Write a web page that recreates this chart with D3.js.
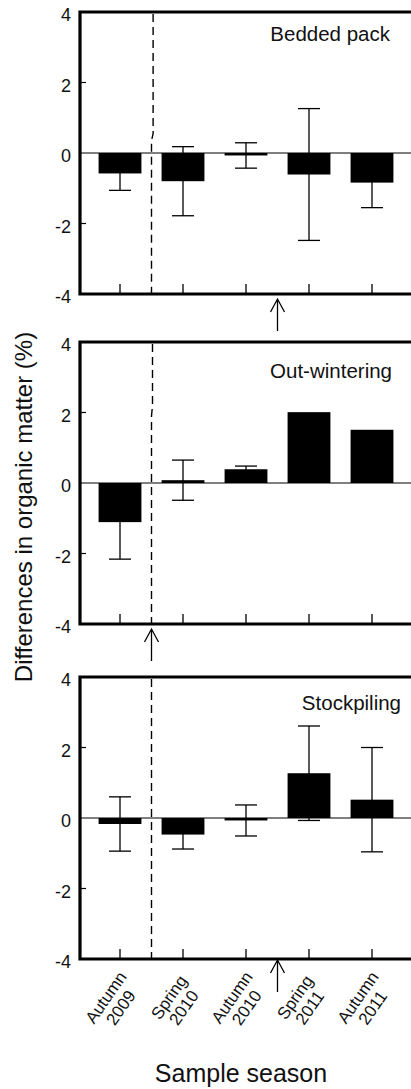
<!DOCTYPE html>
<html>
<head>
<meta charset="utf-8">
<script src="https://cdn.jsdelivr.net/npm/d3@7.9.0/dist/d3.min.js"></script>
<style>
  body { margin: 0; background: #fff; }
  svg { display: block; font-family: "Liberation Sans", Arial, sans-serif; }
</style>
</head>
<body>
<svg id="chart" width="411" height="1089"></svg>
<script>
// Data
const seasons = ['Autumn 2009', 'Spring 2010', 'Autumn 2010', 'Spring 2011', 'Autumn 2011'];
const seasonLines = [['Autumn', '2009'], ['Spring', '2010'], ['Autumn', '2010'], ['Spring', '2011'], ['Autumn', '2011']];
const panelNames = ['Bedded pack', 'Out-wintering', 'Stockpiling'];

const beddedMean = [-0.58, -0.80, -0.07, -0.61, -0.84];
const beddedErr  = [0.48, 0.98, 0.36, 1.87, 0.71];
const outMean    = [-1.11, 0.08, 0.39, 2.01, 1.51];
const outErr     = [1.05, 0.57, 0.09, 0, 0];
const stockMean  = [-0.17, -0.47, -0.07, 1.27, 0.52];
const stockErr   = [0.77, 0.41, 0.44, 1.34, 1.48];

const yTicks = [4, 2, 0, -2, -4];
const dashedAfter = 0;          // dashed separator after this season index
const arrowAfter = [2, 0, 2];   // arrow under the gap after this season index

const means = [beddedMean, outMean, stockMean];
const errs = [beddedErr, outErr, stockErr];

const svg = d3.select('#chart');

// layout
const left = 80, right = 412;
const panelTop = [12, 342, 677];
const panelH = 282;
const labelBase = [41, 378, 710];
const labelRight = [390, 392, 401];
const kink = [[1.6, 0.55, 0.35], [1.0, 2.2, 1.9], [0, 0, 0]];

const x = d3.scalePoint().domain(seasons).range([left, right]).padding(0.635);
const step = x.step();
const barW = step * 0.68;
const capW = step * 0.35;

panelNames.forEach((name, p) => {
  const y = d3.scaleLinear().domain([-4, 4]).range([panelTop[p] + panelH, panelTop[p]]);
  const g = svg.append('g');
  const data = seasons.map((s, i) => ({ s, m: means[p][i], e: errs[p][i] }));

  // zero line
  g.append('line')
    .attr('x1', left).attr('x2', 411)
    .attr('y1', y(0)).attr('y2', y(0))
    .attr('stroke', '#000').attr('stroke-width', 1.2);

  // bars
  g.selectAll('rect.bar').data(data).join('rect')
    .attr('class', 'bar')
    .attr('x', d => x(d.s) - barW / 2)
    .attr('width', barW)
    .attr('y', d => y(Math.max(0, d.m)))
    .attr('height', d => Math.abs(y(d.m) - y(0)))
    .attr('fill', '#000');

  // error bars
  const eb = g.selectAll('g.err').data(data.filter(d => d.e > 0)).join('g')
    .attr('class', 'err')
    .attr('stroke', '#000').attr('stroke-width', 1.3);
  eb.append('line')
    .attr('x1', d => x(d.s)).attr('x2', d => x(d.s))
    .attr('y1', d => y(d.m + d.e)).attr('y2', d => y(d.m - d.e));
  eb.append('line')
    .attr('x1', d => x(d.s) - capW / 2).attr('x2', d => x(d.s) + capW / 2)
    .attr('y1', d => y(d.m + d.e)).attr('y2', d => y(d.m + d.e));
  eb.append('line')
    .attr('x1', d => x(d.s) - capW / 2).attr('x2', d => x(d.s) + capW / 2)
    .attr('y1', d => y(d.m - d.e)).attr('y2', d => y(d.m - d.e));

  // dashed separator
  const dx = x(seasons[dashedAfter]) + step / 2;
  const k = kink[p];
  g.append('path')
    .attr('d', d3.line()([
      [dx + k[0], panelTop[p] + 2],
      [dx + k[0], y(k[1])],
      [dx, y(k[2])],
      [dx, panelTop[p] + panelH]
    ]))
    .attr('fill', 'none')
    .attr('stroke', '#000').attr('stroke-width', 1.4)
    .attr('stroke-dasharray', '8,5');

  // x ticks (inward)
  g.selectAll('line.xt').data(seasons).join('line')
    .attr('class', 'xt')
    .attr('x1', d => x(d)).attr('x2', d => x(d))
    .attr('y1', y(-4)).attr('y2', y(-4) - 10)
    .attr('stroke', '#000').attr('stroke-width', 1.3);

  // y ticks (inward)
  g.selectAll('line.yt').data([2, -2]).join('line')
    .attr('class', 'yt')
    .attr('x1', left).attr('x2', left + 6)
    .attr('y1', d => y(d)).attr('y2', d => y(d))
    .attr('stroke', '#000').attr('stroke-width', 1.2);

  // frame: left, top, bottom
  g.append('path')
    .attr('d', `M${right + 2},${y(4)}H${left}V${y(-4)}H${right + 2}`)
    .attr('fill', 'none').attr('stroke', '#000').attr('stroke-width', 3.2)
    .attr('stroke-linejoin', 'miter');

  // y tick labels
  g.selectAll('text.yl').data(yTicks).join('text')
    .attr('class', 'yl')
    .attr('x', 71).attr('y', d => y(d) + 3)
    .attr('text-anchor', 'end')
    .attr('dominant-baseline', 'central')
    .attr('font-size', 18).attr('fill', '#111')
    .text(d => d);

  // panel label
  g.append('text')
    .attr('x', labelRight[p]).attr('y', labelBase[p])
    .attr('text-anchor', 'end')
    .attr('font-size', 20.5).attr('fill', '#111')
    .text(name);

  // arrow under the panel
  const ax = x(seasons[arrowAfter[p]]) + step / 2;
  const tipY = p === 2 ? y(-4) + 1 : y(-4) + 5;
  const tailY = tipY + 32;
  g.append('path')
    .attr('d', `M${ax},${tailY}V${tipY}M${ax - 7},${tipY + 13}L${ax},${tipY}L${ax + 7},${tipY + 13}`)
    .attr('fill', 'none').attr('stroke', '#000').attr('stroke-width', 1.3);
});

// x tick labels (bottom panel only)
const axisY = panelTop[2] + panelH;
const xl = svg.selectAll('g.xl').data(seasons).join('g')
  .attr('class', 'xl')
  .attr('transform', d => `translate(${x(d) - 6},${axisY + 44}) rotate(-55)`);
xl.each(function (d, i) {
  const t = d3.select(this).append('text')
    .attr('text-anchor', 'middle')
    .attr('font-size', 17).attr('fill', '#111');
  seasonLines[i].forEach((ln, j) => {
    t.append('tspan').attr('x', 0).attr('y', j === 0 ? -4 : 14).text(ln);
  });
});

// axis titles
svg.append('text')
  .attr('transform', 'translate(23,507) rotate(-90)')
  .attr('text-anchor', 'middle')
  .attr('dominant-baseline', 'central')
  .attr('font-size', 24).attr('fill', '#111')
  .text('Differences in organic matter (%)');

svg.append('text')
  .attr('x', 241).attr('y', 1082)
  .attr('text-anchor', 'middle')
  .attr('font-size', 25).attr('fill', '#111')
  .text('Sample season');
</script>
</body>
</html>
